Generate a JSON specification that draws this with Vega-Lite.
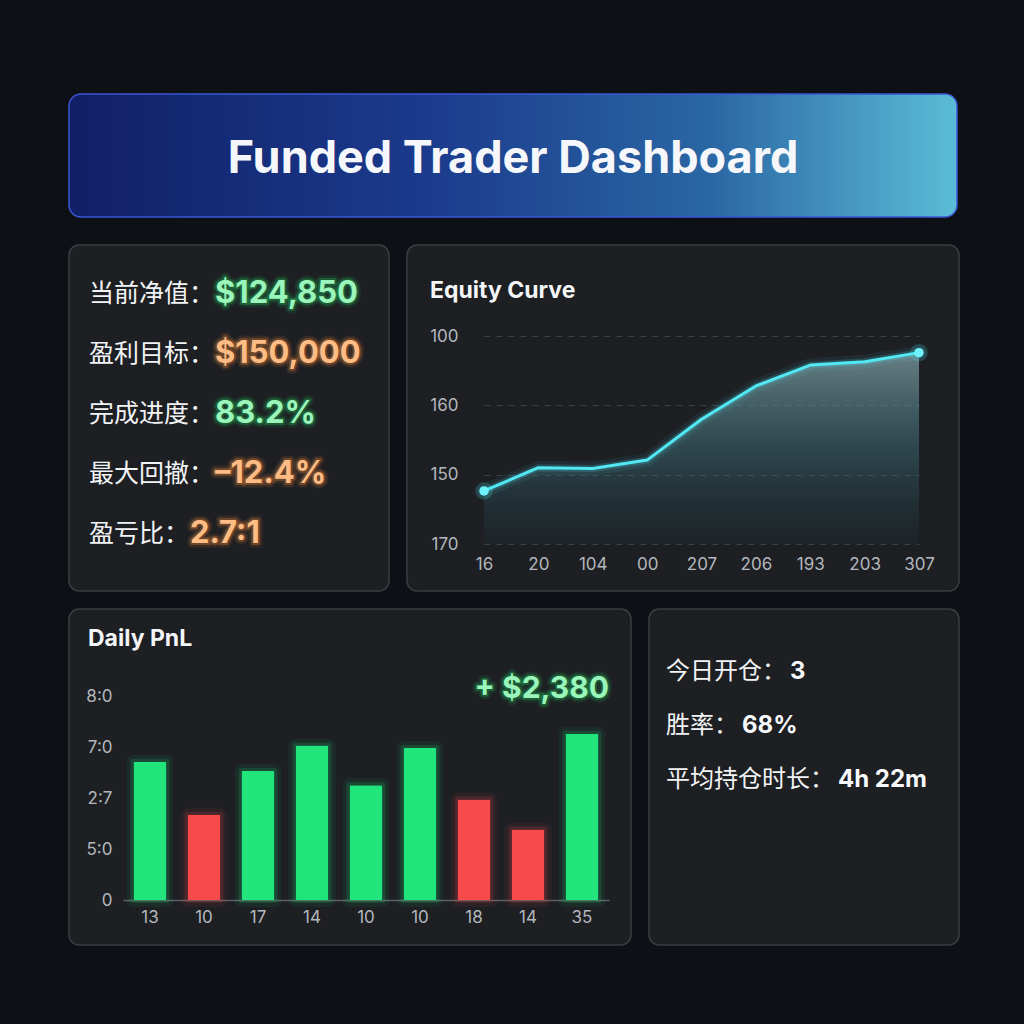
{
  "$schema": "https://vega.github.io/schema/vega-lite/v6.json",
  "background": "#0d1115",
  "padding": {"left": 68, "top": 93, "right": 68, "bottom": 82},
  "bounds": "flush",
  "spacing": 28,
  "resolve": {"scale": {"color": "independent", "stroke": "independent"}},
  "config": {
    "view": {"fill": "#1d1f23", "stroke": "#3a3d42", "strokeWidth": 1.5, "cornerRadius": 10},
    "font": "Inter",
    "axis": {"labelFont": "Inter", "labelFontSize": 17, "labelColor": "#b3b7bd", "title": null, "ticks": false, "domain": false, "grid": false}
  },
  "vconcat": [
    {
      "width": 888,
      "height": 123,
      "view": {"fill": null, "stroke": null},
      "data": {"values": [{"title": "Funded Trader Dashboard"}]},
      "layer": [
        {
          "mark": {
            "type": "rect",
            "cornerRadius": 12,
            "stroke": "#3a57d6",
            "strokeWidth": 1.5,
            "fill": {
              "gradient": "linear", "x1": 0, "y1": 0, "x2": 1, "y2": 0,
              "stops": [
                {"offset": 0, "color": "#111f66"},
                {"offset": 0.4, "color": "#1b3a8c"},
                {"offset": 0.72, "color": "#2a66a4"},
                {"offset": 1, "color": "#5bbcd6"}
              ]
            }
          },
          "encoding": {}
        },
        {
          "mark": {"type": "text", "font": "Inter", "fontSize": 45, "fontWeight": "bold", "color": "#f5f7fa", "dy": 3},
          "encoding": {"text": {"field": "title"}}
        }
      ]
    },
    {
      "resolve": {"scale": {"color": "independent", "stroke": "independent"}},
      "vconcat": [
        {
          "resolve": {"scale": {"color": "independent", "stroke": "independent"}},
          "hconcat": [
            {
              "width": 320,
              "height": 346,
              "data": {"values": [
                {"metric": "当前净值：", "value": "$124,850", "tone": "gain"},
                {"metric": "盈利目标：", "value": "$150,000", "tone": "target"},
                {"metric": "完成进度：", "value": "83.2%", "tone": "gain"},
                {"metric": "最大回撤：", "value": "–12.4%", "tone": "target"},
                {"metric": "盈亏比：", "value": "2.7:1", "tone": "target"}
              ]},
              "encoding": {
                "y": {"field": "metric", "type": "nominal", "sort": null, "scale": {"type": "point", "range": [49, 289], "padding": 0}, "axis": null}
              },
              "layer": [
                {
                  "mark": {"type": "text", "x": 20, "align": "left", "font": "Noto Sans CJK SC", "fontSize": 25, "color": "#f1f3f5"},
                  "encoding": {"text": {"field": "metric"}}
                },
                {
                  "mark": {"type": "text", "x": {"expr": "21 + length(datum.metric) * 25"}, "align": "left", "font": "Inter", "fontWeight": "bold", "fontSize": 31, "fillOpacity": 0, "strokeWidth": 9, "strokeOpacity": 0.12, "strokeJoin": "round"},
                  "encoding": {"text": {"field": "value"}, "stroke": {"field": "tone", "type": "nominal", "scale": {"domain": ["gain", "target"], "range": ["#22c55e", "#f08a3a"]}, "legend": null}}
                },
                {
                  "mark": {"type": "text", "x": {"expr": "21 + length(datum.metric) * 25"}, "align": "left", "font": "Inter", "fontWeight": "bold", "fontSize": 31, "fillOpacity": 0, "strokeWidth": 4, "strokeOpacity": 0.3, "strokeJoin": "round"},
                  "encoding": {"text": {"field": "value"}, "stroke": {"field": "tone", "type": "nominal", "scale": {"domain": ["gain", "target"], "range": ["#22c55e", "#f08a3a"]}, "legend": null}}
                },
                {
                  "mark": {"type": "text", "x": {"expr": "21 + length(datum.metric) * 25"}, "align": "left", "font": "Inter", "fontWeight": "bold", "fontSize": 31},
                  "encoding": {"text": {"field": "value"}, "color": {"field": "tone", "type": "nominal", "scale": {"domain": ["gain", "target"], "range": ["#9af6bb", "#ffbd85"]}, "legend": null}}
                }
              ]
            },
            {
              "width": 552,
              "height": 346,
              "title": {"text": "Equity Curve", "anchor": "start", "frame": "group", "offset": -69, "dx": 23, "baseline": "middle", "fontSize": 23, "font": "Inter", "fontWeight": "bold", "color": "#f4f5f7"},
              "data": {"values": [
                {"t": "16", "v": 0.765},
                {"t": "20", "v": 1.1},
                {"t": "104", "v": 1.09},
                {"t": "00", "v": 1.21},
                {"t": "207", "v": 1.8},
                {"t": "206", "v": 2.28},
                {"t": "193", "v": 2.58},
                {"t": "203", "v": 2.63},
                {"t": "307", "v": 2.76}
              ]},
              "encoding": {
                "x": {"field": "t", "type": "ordinal", "sort": null, "scale": {"type": "point", "range": [77, 512], "padding": 0},
                      "axis": {"orient": "bottom", "offset": -43, "labelPadding": 8, "labelAngle": 0}},
                "y": {"field": "v", "type": "quantitative", "scale": {"domain": [0, 3], "range": [299, 91], "nice": false},
                      "axis": {"orient": "left", "offset": -53, "labelPadding": 2, "values": [0, 1, 2, 3], "labelExpr": "['170','150','160','100'][datum.value]", "grid": true, "gridDash": [6, 6], "gridColor": "#3c4046", "gridWidth": 1}}
              },
              "layer": [
                {
                  "mark": {"type": "area", "fill": {
                    "gradient": "linear", "x1": 0, "y1": 0, "x2": 0, "y2": 1,
                    "stops": [
                      {"offset": 0, "color": "rgba(130,160,165,0.75)"},
                      {"offset": 0.5, "color": "rgba(70,130,140,0.4)"},
                      {"offset": 1, "color": "rgba(40,100,110,0.06)"}
                    ]
                  }}
                },
                {"mark": {"type": "line", "color": "#4fe6f2", "strokeWidth": 14, "opacity": 0.07, "strokeJoin": "round", "strokeCap": "round"}},
                {"mark": {"type": "line", "color": "#4fe6f2", "strokeWidth": 7, "opacity": 0.18, "strokeJoin": "round", "strokeCap": "round"}},
                {"mark": {"type": "line", "color": "#52e8f4", "strokeWidth": 3, "strokeJoin": "round", "strokeCap": "round"}},
                {
                  "transform": [{"filter": "datum.t == '16' || datum.t == '307'"}],
                  "mark": {"type": "circle", "size": 320, "color": "#4fe6f2", "opacity": 0.18}
                },
                {
                  "transform": [{"filter": "datum.t == '16' || datum.t == '307'"}],
                  "mark": {"type": "circle", "size": 90, "color": "#6ff3ff", "opacity": 1}
                }
              ]
            }
          ],
          "spacing": 16
        },
        {
          "resolve": {"scale": {"color": "independent", "stroke": "independent"}},
          "hconcat": [
            {
              "width": 562,
              "height": 336,
              "view": {"fill": "#1d1f23", "stroke": "#3a3d42", "strokeWidth": 1.5, "cornerRadius": 10},
              "title": {"text": "Daily PnL", "anchor": "start", "frame": "group", "offset": -53, "dx": 19, "baseline": "middle", "fontSize": 23, "font": "Inter", "fontWeight": "bold", "color": "#f4f5f7"},
              "layer": [
                {
                  "data": {"values": [
                    {"day": 1, "amount": 2.71, "side": "gain"},
                    {"day": 2, "amount": 1.67, "side": "loss"},
                    {"day": 3, "amount": 2.53, "side": "gain"},
                    {"day": 4, "amount": 3.03, "side": "gain"},
                    {"day": 5, "amount": 2.25, "side": "gain"},
                    {"day": 6, "amount": 2.98, "side": "gain"},
                    {"day": 7, "amount": 1.97, "side": "loss"},
                    {"day": 8, "amount": 1.38, "side": "loss"},
                    {"day": 9, "amount": 3.26, "side": "gain"}
                  ]},
                  "encoding": {
                    "x": {"field": "day", "type": "ordinal", "scale": {"type": "band", "range": [54, 540], "paddingInner": 0.39, "paddingOuter": 0.195},
                          "axis": {"orient": "bottom", "offset": -45, "labelPadding": 9, "labelAngle": 0, "domain": true, "domainColor": "#5b5f66", "domainWidth": 1.5, "labelExpr": "['13','10','17','14','10','10','18','14','35'][datum.value - 1]"}},
                    "y": {"field": "amount", "type": "quantitative", "scale": {"domain": [0, 4], "range": [291, 87], "nice": false},
                          "axis": {"orient": "left", "offset": -45, "labelPadding": 2, "values": [0, 1, 2, 3, 4], "labelExpr": "['0','5:0','2:7','7:0','8:0'][datum.value]"}}
                  },
                  "layer": [
                    {
                      "mark": {"type": "bar", "fillOpacity": 0, "strokeWidth": 14, "strokeOpacity": 0.07, "strokeJoin": "round"},
                      "encoding": {"stroke": {"field": "side", "type": "nominal", "scale": {"domain": ["gain", "loss"], "range": ["#1fe57a", "#f84a4a"]}, "legend": null}}
                    },
                    {
                      "mark": {"type": "bar", "fillOpacity": 0, "strokeWidth": 6, "strokeOpacity": 0.16, "strokeJoin": "round"},
                      "encoding": {"stroke": {"field": "side", "type": "nominal", "scale": {"domain": ["gain", "loss"], "range": ["#1fe57a", "#f84a4a"]}, "legend": null}}
                    },
                    {
                      "mark": {"type": "bar", "cornerRadius": 1.5},
                      "encoding": {"color": {"field": "side", "type": "nominal", "scale": {"domain": ["gain", "loss"], "range": ["#1fe57a", "#f84a4a"]}, "legend": null}}
                    }
                  ]
                },
                {
                  "data": {"values": [{"total": "+ $2,380"}]},
                  "layer": [
                    {"mark": {"type": "text", "x": 540, "y": 80, "align": "right", "font": "Inter", "fontWeight": "bold", "fontSize": 30, "fillOpacity": 0, "stroke": "#22c55e", "strokeWidth": 9, "strokeOpacity": 0.12, "strokeJoin": "round"}, "encoding": {"text": {"field": "total"}}},
                    {"mark": {"type": "text", "x": 540, "y": 80, "align": "right", "font": "Inter", "fontWeight": "bold", "fontSize": 30, "fillOpacity": 0, "stroke": "#22c55e", "strokeWidth": 4, "strokeOpacity": 0.3, "strokeJoin": "round"}, "encoding": {"text": {"field": "total"}}},
                    {"mark": {"type": "text", "x": 540, "y": 80, "align": "right", "font": "Inter", "fontWeight": "bold", "fontSize": 30, "color": "#9af6bb"}, "encoding": {"text": {"field": "total"}}}
                  ]
                }
              ]
            },
            {
              "width": 310,
              "height": 336,
              "data": {"values": [
                {"metric": "今日开仓：", "value": "3"},
                {"metric": "胜率：", "value": "68%"},
                {"metric": "平均持仓时长：", "value": "4h 22m"}
              ]},
              "encoding": {
                "y": {"field": "metric", "type": "nominal", "sort": null, "scale": {"type": "point", "range": [63, 171], "padding": 0}, "axis": null}
              },
              "layer": [
                {
                  "mark": {"type": "text", "x": 17, "align": "left", "font": "Noto Sans CJK SC", "fontSize": 24, "color": "#f1f3f5"},
                  "encoding": {"text": {"field": "metric"}}
                },
                {
                  "mark": {"type": "text", "x": {"expr": "21 + length(datum.metric) * 24"}, "align": "left", "font": "Inter", "fontWeight": "bold", "fontSize": 24, "color": "#f7f8fa"},
                  "encoding": {"text": {"field": "value"}}
                }
              ]
            }
          ],
          "spacing": 16
        }
      ],
      "spacing": 16
    }
  ]
}
